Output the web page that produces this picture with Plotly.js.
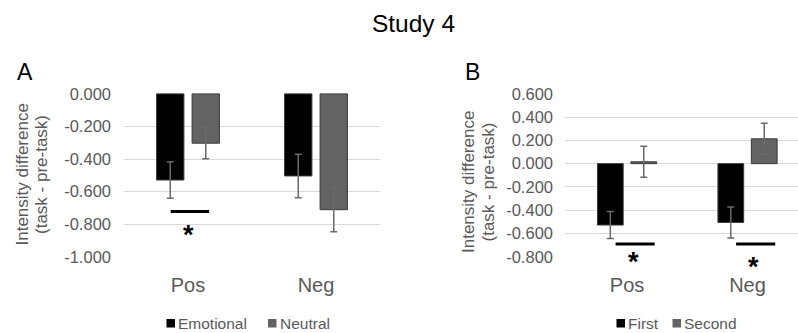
<!DOCTYPE html>
<html>
<head>
<meta charset="utf-8">
<script src="https://cdn.plot.ly/plotly-3.0.1.min.js"></script>
<style>html,body{margin:0;padding:0;background:#fff;}#chart{width:798px;height:333px;}</style>
</head>
<body>
<div id="chart"></div>
<script>
// ---- data ----
const categories = ["Pos", "Neg"];
// Panel A (Emotional vs Neutral)
const seriesA = ["Emotional", "Neutral"];
const emotionalVals = [-0.529, -0.504];
const emotionalErr = [0.112, 0.133];
const neutralVals = [-0.303, -0.711];
const neutralErr = [0.095, 0.135];
// Panel B (First vs Second)
const seriesB = ["First", "Second"];
const firstVals = [-0.527, -0.505];
const firstErr = [0.116, 0.133];
const secondVals = [0.016, 0.213];
const secondErr = [0.133, 0.133];
// ticks
const tickValsA = [0, -0.2, -0.4, -0.6, -0.8, -1.0];
const tickTextA = ["0.000", "-0.200", "-0.400", "-0.600", "-0.800", "-1.000"];
const tickValsB = [0.6, 0.4, 0.2, 0, -0.2, -0.4, -0.6, -0.8];
const tickTextB = ["0.600", "0.400", "0.200", "0.000", "-0.200", "-0.400", "-0.600", "-0.800"];
// significance markers (category index, bracket value)
const sigCatA = [0];
const sigYA = [-0.722];
const sigCatB = [0, 1];
const sigYB = [-0.69, -0.69];

// ---- styling / layout ----
const FONT = "Liberation Sans, Arial, sans-serif";
const GRAY_TXT = "#595959";
const BLACK = "#000000";
const GRAYBAR = "#636363";
const W = 798, H = 333;
const px = v => v / W, py = v => 1 - v / H;

function bar(name, vals, err, color, xa, ya) {
  return {
    type: "bar", name: name, x: categories, y: vals,
    xaxis: xa, yaxis: ya, showlegend: false,
    marker: {color: color, line: {color: "#3a3a3a", width: 1}},
    error_y: {type: "data", array: err, visible: true, color: "#6a6a6a", thickness: 1.5, width: 3.5}
  };
}

const data = [
  bar(seriesA[0], emotionalVals, emotionalErr, BLACK, "x", "y"),
  bar(seriesA[1], neutralVals, neutralErr, GRAYBAR, "x", "y"),
  bar(seriesB[0], firstVals, firstErr, BLACK, "x2", "y2"),
  bar(seriesB[1], secondVals, secondErr, GRAYBAR, "x2", "y2")
];

const shapes = [], annotations = [];
function addSig(cats, ys, xref, yref, x0off, x1off, starShifts, starX) {
  cats.forEach((c, i) => {
    shapes.push({type: "line", xref: xref, yref: yref, x0: c + x0off, x1: c + x1off, y0: ys[i], y1: ys[i],
      line: {color: "#000", width: 3}});
    annotations.push({xref: xref, yref: yref, x: c + starX, y: ys[i], text: "<b>*</b>",
      showarrow: false, yanchor: "top", valign: "top", height: 20, yshift: starShifts[i],
      font: {family: FONT, size: 27, color: "#000"}});
  });
}
addSig(sigCatA, sigYA, "x", "y", -0.135, 0.165, [-7], 0.0);
addSig(sigCatB, sigYB, "x2", "y2", -0.095, 0.23, [-1, -6], 0.05);

// panel letters and y titles
annotations.push(
  {xref: "paper", yref: "paper", x: px(25), y: py(71.5), text: "A", showarrow: false,
   xanchor: "center", yanchor: "middle", font: {family: FONT, size: 23, color: "#000"}},
  {xref: "paper", yref: "paper", x: px(472), y: py(71.5), text: "B", showarrow: false,
   xanchor: "center", yanchor: "middle", font: {family: FONT, size: 23, color: "#000"}}
);
function yTitle(cx, cy) {
  annotations.push(
    {xref: "paper", yref: "paper", x: px(cx - 9.5), y: py(cy), text: "Intensity difference",
     showarrow: false, textangle: -90, xanchor: "center", yanchor: "middle",
     font: {family: FONT, size: 17, color: GRAY_TXT}},
    {xref: "paper", yref: "paper", x: px(cx + 10), y: py(cy), text: "(task - pre-task)",
     showarrow: false, textangle: -90, xanchor: "center", yanchor: "middle",
     font: {family: FONT, size: 17, color: GRAY_TXT}});
}
yTitle(31.5, 174.5);
yTitle(477.5, 182);

// legends (key squares + labels)
function legendItem(sqLeft, color, label) {
  shapes.push({type: "rect", xref: "paper", yref: "paper", x0: px(sqLeft), x1: px(sqLeft + 8.5),
    y0: py(327.5), y1: py(319), fillcolor: color, line: {width: 0}});
  annotations.push({xref: "paper", yref: "paper", x: px(sqLeft + 9.5), y: py(323.5), text: label,
    showarrow: false, xanchor: "left", yanchor: "middle", font: {family: FONT, size: 15.5, color: GRAY_TXT}});
}
legendItem(166.5, BLACK, seriesA[0]);
legendItem(268, GRAYBAR, seriesA[1]);
legendItem(616.5, BLACK, seriesB[0]);
legendItem(672.5, GRAYBAR, seriesB[1]);

const catAxis = {
  type: "category", showgrid: false, zeroline: false, showline: false, ticks: "",
  tickfont: {family: FONT, size: 20, color: GRAY_TXT}, ticklabelstandoff: 14, fixedrange: true
};
const valAxis = {
  showgrid: true, gridcolor: "#d9d9d9", gridwidth: 1, zeroline: false, showline: false, ticks: "",
  tickmode: "array", tickfont: {family: FONT, size: 16.5, color: GRAY_TXT}
};

const layout = {
  width: W, height: H,
  margin: {l: 0, r: 0, t: 0, b: 0},
  paper_bgcolor: "#fff", plot_bgcolor: "rgba(0,0,0,0)",
  font: {family: FONT, color: GRAY_TXT},
  title: {text: "Study 4", x: px(413.5), xanchor: "center", y: py(23), yanchor: "middle",
          font: {family: FONT, size: 24.5, color: "#000"}},
  barmode: "group", bargap: 0.445, bargroupgap: 0.23,
  xaxis: Object.assign({}, catAxis, {domain: [px(124), px(380)], range: [-0.5, 1.5], anchor: "y"}),
  yaxis: Object.assign({}, valAxis, {domain: [py(257.3), py(93.3)], range: [-1.003, 0.003],
          tickvals: tickValsA, ticktext: tickTextA, anchor: "x", ticklabelstandoff: 12}),
  xaxis2: Object.assign({}, catAxis, {domain: [px(565), 1], range: [-0.515, 1.419], anchor: "y2"}),
  yaxis2: Object.assign({}, valAxis, {domain: [py(257.3), py(93.3)], range: [-0.804, 0.604],
          tickvals: tickValsB, ticktext: tickTextB, anchor: "x2", ticklabelstandoff: 11}),
  showlegend: false,
  shapes: shapes,
  annotations: annotations
};

Plotly.newPlot("chart", data, layout, {staticPlot: true, displayModeBar: false});
</script>
</body>
</html>
